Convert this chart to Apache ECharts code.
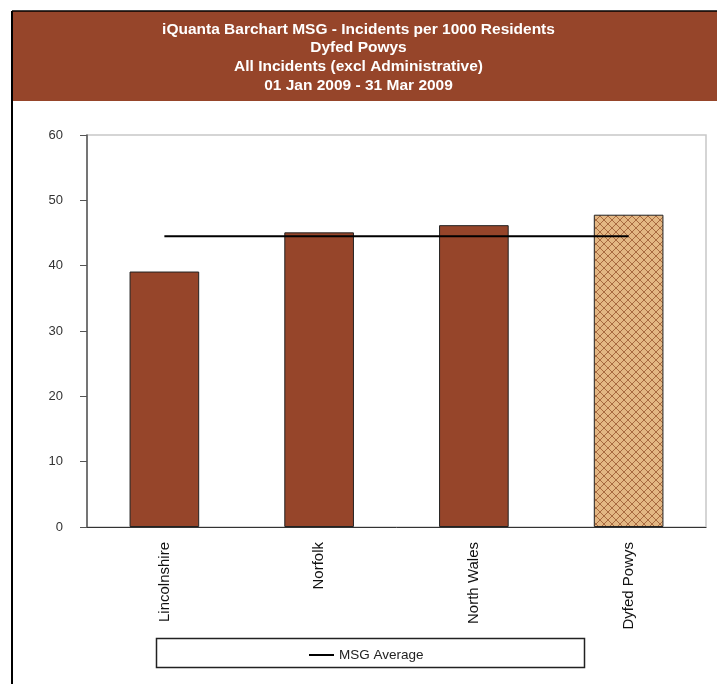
<!DOCTYPE html>
<html>
<head>
<meta charset="UTF-8">
<title>iQuanta Barchart MSG</title>
<script src="https://cdn.jsdelivr.net/npm/echarts@6/dist/echarts.min.js"></script>
<style>
  html, body { margin: 0; padding: 0; background: #fff; }
</style>
</head>
<body>
	<div id="main" style="width:717px;height:684px;"></div>
	<script type="text/javascript">
		// data
		var areas = ['Lincolnshire', 'Norfolk', 'North Wales', 'Dyfed Powys'];
		var incidents = [39.1, 45.1, 46.2, 47.8];
		var msgAverage = [44.5, 44.5, 44.5, 44.5];
		var yTicks = [0, 10, 20, 30, 40, 50, 60];

		var brown = '#96452a';

		// cross hatch for the highlighted force
		function hatch() {
			var c = document.createElement('canvas');
			c.width = 8; c.height = 8;
			var g = c.getContext('2d');
			g.fillStyle = '#e3b783';
			g.fillRect(0, 0, 8, 8);
			g.strokeStyle = '#a86a40';
			g.lineWidth = 1;
			g.beginPath();
			g.moveTo(0, 0); g.lineTo(8, 8);
			g.moveTo(8, 0); g.lineTo(0, 8);
			g.stroke();
			return c;
		}
		var hatchFill = { image: hatch(), repeat: 'repeat' };

		var barData = incidents.map(function (v, i) {
			if (i === areas.length - 1) {
				return { value: v, itemStyle: { color: hatchFill } };
			}
			return v;
		});

		var myChart = echarts.init(document.getElementById('main'));
		var option = {
			animation: false,
			textStyle: { fontFamily: 'Liberation Sans, Arial, sans-serif' },
			graphic: [
				{ type: 'rect', shape: { x: 12, y: 11, width: 710, height: 90 }, style: { fill: brown }, z: 0 },
				{ type: 'line', shape: { x1: 12, y1: 11, x2: 717, y2: 11 }, style: { stroke: '#000', lineWidth: 1.5 } },
				{ type: 'line', shape: { x1: 12, y1: 11, x2: 12, y2: 684 }, style: { stroke: '#000', lineWidth: 2 } },
				{ type: 'rect', shape: { x: 156.5, y: 638.5, width: 428, height: 29 }, style: { fill: '#fff', stroke: '#222', lineWidth: 1.5 }, z: 0 }
			],
			title: {
				text: 'iQuanta Barchart MSG - Incidents per 1000 Residents\nDyfed Powys\nAll Incidents (excl Administrative)\n01 Jan 2009 - 31 Mar 2009',
				left: 'center',
				top: 15,
				textStyle: {
					color: '#fff',
					fontSize: 15.5,
					fontWeight: 'bold',
					lineHeight: 18.7,
					fontFamily: 'Liberation Sans, Arial, sans-serif'
				}
			},
			legend: {
				data: [{ name: 'MSG Average', icon: 'rect' }],
				left: 304,
				top: 643,
				itemWidth: 25,
				itemHeight: 2,
				itemGap: 6,
				textStyle: { fontSize: 13.5, color: '#222' }
			},
			grid: {
				left: 87,
				right: 11,
				top: 135,
				bottom: 157,
				show: true,
				borderColor: '#c8c8c8',
				borderWidth: 1.5,
				containLabel: false
			},
			xAxis: {
				type: 'category',
				data: areas,
				axisLine: { lineStyle: { color: '#333', width: 1 } },
				axisTick: { length: 8, lineStyle: { color: '#333' } },
				axisLabel: { rotate: 90, margin: 15, fontSize: 15, color: '#111' }
			},
			yAxis: {
				type: 'value',
				min: yTicks[0],
				max: yTicks[yTicks.length - 1],
				interval: 10,
				axisLine: { show: true, lineStyle: { color: '#555', width: 1.5 } },
				axisTick: { show: true, length: 7, lineStyle: { color: '#555' } },
				splitLine: { show: false },
				axisLabel: { margin: 24, fontSize: 13, color: '#333' }
			},
			series: [
				{
					name: 'Incidents',
					type: 'bar',
					data: barData,
					barWidth: '45%',
					itemStyle: { color: brown, borderColor: '#222', borderWidth: 1 },
					z: 2
				},
				{
					name: 'MSG Average',
					type: 'line',
					data: msgAverage,
					symbol: 'none',
					color: '#000',
					lineStyle: { color: '#000', width: 2 },
					z: 3
				}
			]
		};
		myChart.setOption(option);
	</script>
</body>
</html>
